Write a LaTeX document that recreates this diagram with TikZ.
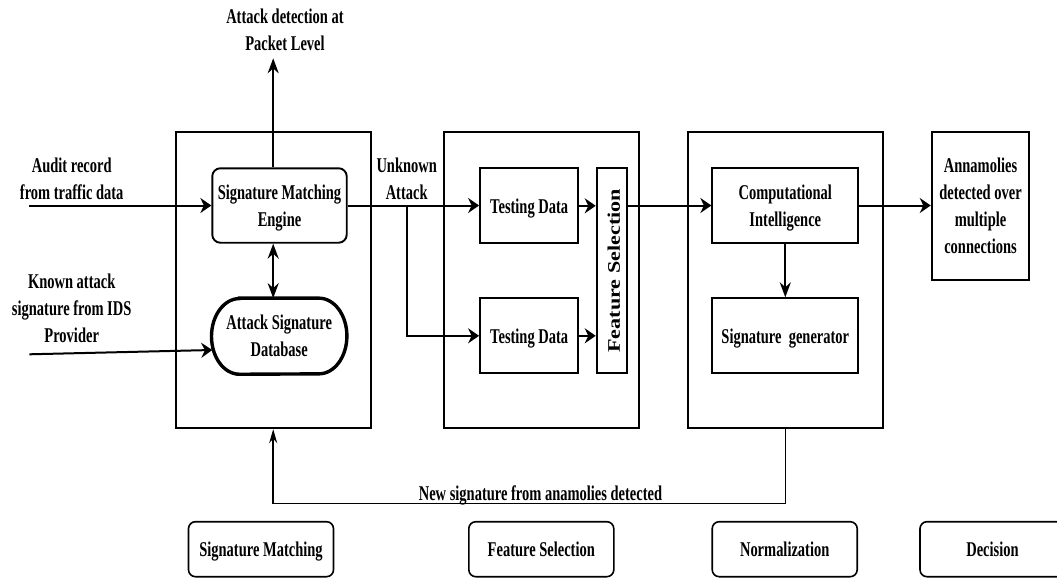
\documentclass[tikz,border=0pt]{standalone}
\usepackage{fontspec}
\setmainfont{Liberation Serif}[FakeStretch=0.69]
\newfontfamily\rotfont{Liberation Serif}[FakeStretch=1.25]
\usetikzlibrary{arrows.meta}

\begin{document}
\begin{tikzpicture}[x=1pt,y=-1pt,
  lbl/.style={font=\bfseries\fontsize{21}{27}\selectfont, align=center,
              inner sep=0pt, text depth=0pt},
  stage/.style={draw, line width=1.7pt, inner sep=0pt,
                minimum width=195pt, minimum height=296.6pt},
  blk/.style={lbl, draw, line width=1.9pt},
  tag/.style={blk, line width=1.6pt, rounded corners=7pt,
              minimum width=145pt, minimum height=55pt},
  conn/.style={line width=2pt},
  harrow/.style={conn, -{Stealth[length=11pt,width=15pt]}},
  varrow/.style={conn, -{Stealth[length=15pt,width=11pt]}},
  dvarrow/.style={conn, {Stealth[length=15pt,width=11pt]}-{Stealth[length=15pt,width=11pt]}},
  backarrow/.style={line width=1.5pt, -{Stealth[length=14pt,width=8pt]}}
]
\useasboundingbox (0,0) rectangle (1057,578);

% three processing stages
\node[stage] (box1) at (273.2,280) {};
\node[stage] (box2) at (541.7,280) {};
\node[stage] (box3) at (785.5,280) {};

% signature matching stage
\node[blk, rounded corners=8pt, minimum width=134.4pt, minimum height=74.4pt]
  (engine) at (279.5,205.5) {Signature Matching\\Engine};
\node[lbl, minimum width=135pt, minimum height=75.7pt]
  (db) at (279.2,336.2) {Attack Signature\\Database};
\draw[line width=3.4pt]
  ([xshift=28pt]db.north west) -- ([xshift=-28pt]db.north east)
  arc[start angle=90, end angle=-90, x radius=28pt, y radius=37.85pt]
  -- ([xshift=28pt]db.south west)
  arc[start angle=270, end angle=90, x radius=28pt, y radius=37.85pt]
  -- cycle;

% feature selection stage
\node[blk, minimum width=98.3pt, minimum height=75pt] (td1) at (529.2,205.8) {Testing Data};
\node[blk, minimum width=98.3pt, minimum height=75pt] (td2) at (529.2,335.8) {Testing Data};
\node[draw, line width=1.9pt, inner sep=0pt, minimum width=30pt, minimum height=205pt]
  (fs) at (611.7,270.8) {};
\node[rotate=90, inner sep=0pt, text depth=0pt,
      font=\rotfont\bfseries\fontsize{17.7}{20}\selectfont]
  (fstext) at (613.8,270.8) {Feature Selection};

% normalization stage
\node[blk, minimum width=146pt, minimum height=74.4pt] (ci) at (785.3,205.5) {Computational\\Intelligence};
\node[blk, minimum width=146pt, minimum height=75pt] (sg) at (785.3,335.8) {Signature\ \ generator};

% decision
\node[blk, minimum width=97.6pt, minimum height=148.3pt]
  (ann) at (980.5,205.8) {Annamolies\\detected over\\multiple\\connections};

% free labels
\node[lbl] (det) at (285,29.7) {Attack detection at\\Packet Level};
\node[lbl] (audit) at (71.7,178.4) {Audit record\\from traffic data};
\node[lbl] (unk) at (406.7,178.4) {Unknown\\Attack};
\node[lbl] (known) at (71.7,308.2) {Known attack\\signature from IDS\\Provider};
\node[lbl, anchor=base] (newsig) at (540.5,500) {New signature from anamolies detected};

% stage tags
\node[tag] (t1) at (261,549.2) {Signature Matching};
\node[tag] (t2) at (541.3,549.2) {Feature Selection};
\node[tag] (t3) at (784.7,549.2) {Normalization};
\node[tag] (t4) at (992.5,549.2) {Decision};

% connector end points
\coordinate (astart) at (29.3,205.5);
\coordinate (kstart) at (29.3,354.3);
\coordinate (kend) at (212.3,350);
\coordinate (detend) at (273.2,58.3);
\coordinate (br) at (407.3,205.5);
\coordinate (fb) at (0,503.3);

% connectors
\draw[harrow] (astart) -- (engine.west);
\draw[harrow] (kstart) -- (kend);
\draw[varrow] (box1.center |- engine.north) -- (detend);
\draw[dvarrow] (box1.center |- engine.south) -- (box1.center |- db.north);
\draw[harrow] (engine.east) -- (engine.east -| td1.west);
\draw[harrow] (br) |- (td2.west);
\draw[harrow] (td1.east) -- (td1.east -| fs.west);
\draw[harrow] (td2.east) -- (td2.east -| fs.west);
\draw[harrow] (fs.east |- ci.west) -- (ci.west);
\draw[varrow] (ci.south) -- (sg.north);
\draw[harrow] (ci.east) -- (ci.east -| ann.west);
\draw[backarrow] (box3.south) -- (box3.south |- fb) -| (box1.south);
\end{tikzpicture}
\end{document}
